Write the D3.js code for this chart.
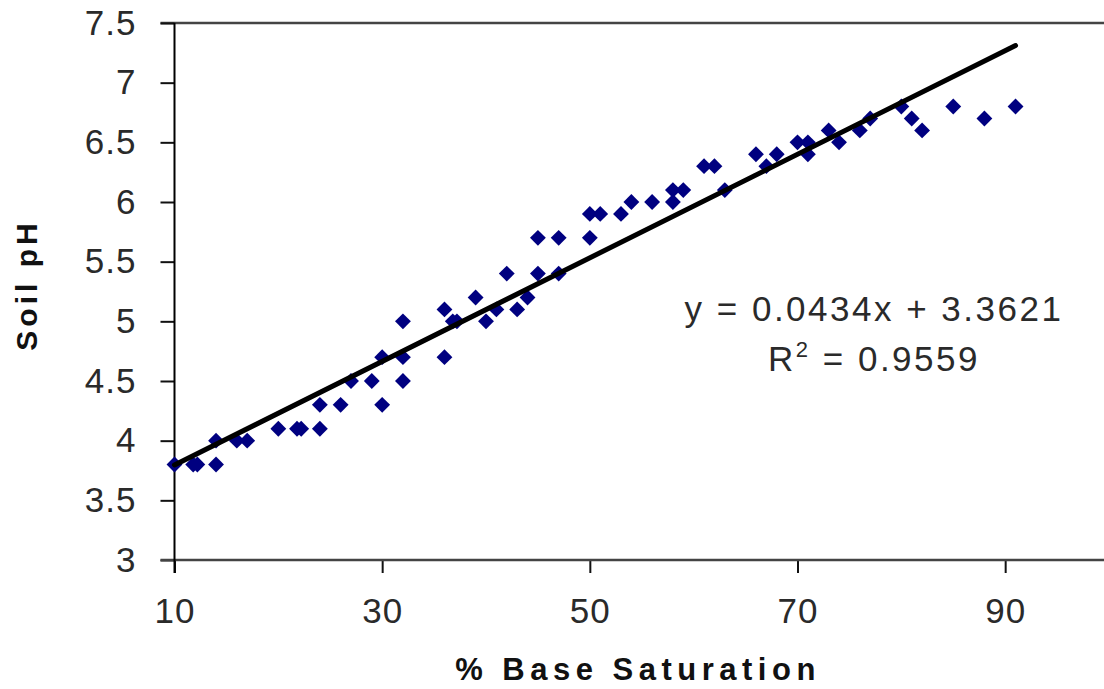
<!DOCTYPE html>
<html>
<head>
<meta charset="utf-8">
<script src="https://cdn.jsdelivr.net/npm/d3@7"></script>
<style>
  html, body { margin: 0; padding: 0; background: #fff; }
  svg { display: block; }
  .tick text { font-family: "Liberation Sans", Arial, sans-serif; font-size: 35px; fill: #2a2a2a; letter-spacing: 1px; }
</style>
</head>
<body>
<div id="chart"></div>
<script>
// % base saturation vs soil pH
const baseSat = [10, 11.8, 12.2, 14, 14, 16, 17, 20, 21.8, 22.2, 24, 24, 26, 27, 29, 30, 30, 32, 32, 32,
  36, 36, 36.8, 37.2, 39, 40, 41, 42, 43, 44, 45, 45, 47, 47, 50, 50, 51, 53, 54, 56,
  58, 58, 59, 61, 62, 63, 66, 67, 68, 70, 71, 71, 73, 74, 76, 77, 80, 81, 82, 85, 88, 91];
const soilPH = [3.8, 3.8, 3.8, 3.8, 4.0, 4.0, 4.0, 4.1, 4.1, 4.1, 4.1, 4.3, 4.3, 4.5, 4.5, 4.3, 4.7, 4.5, 4.7, 5.0,
  5.1, 4.7, 5.0, 5.0, 5.2, 5.0, 5.1, 5.4, 5.1, 5.2, 5.4, 5.7, 5.7, 5.4, 5.7, 5.9, 5.9, 5.9, 6.0, 6.0,
  6.0, 6.1, 6.1, 6.3, 6.3, 6.1, 6.4, 6.3, 6.4, 6.5, 6.5, 6.4, 6.6, 6.5, 6.6, 6.7, 6.8, 6.7, 6.6, 6.8, 6.7, 6.8];
const xTicks = [10, 30, 50, 70, 90];
const yTicks = [3, 3.5, 4, 4.5, 5, 5.5, 6, 6.5, 7, 7.5];
const slope = 0.0434;
const intercept = 3.3621;
const fitRange = [10, 91];

const width = 1104;
const height = 689;
const plotLeft = 174.5, plotTop = 23, plotBottom = 560, plotRight = 1109;

const svg = d3.select('#chart').append('svg')
  .attr('width', width)
  .attr('height', height);

const x = d3.scaleLinear().domain([10, 100]).range([plotLeft, plotRight]);
const y = d3.scaleLinear().domain([3, 7.5]).range([plotBottom, plotTop]);

// top border of plot area
svg.append('line')
  .attr('x1', plotLeft - 14).attr('x2', width)
  .attr('y1', y(7.5)).attr('y2', y(7.5))
  .attr('stroke', '#444').attr('stroke-width', 2.5);

const yAxis = svg.append('g')
  .attr('transform', `translate(${plotLeft},0)`)
  .call(d3.axisLeft(y).tickValues(yTicks).tickSize(14).tickPadding(24).tickFormat(d => d));
yAxis.select('.domain').remove();
yAxis.selectAll('.tick line').attr('stroke', '#111').attr('stroke-width', 2);

const xAxis = svg.append('g')
  .attr('transform', `translate(0,${plotBottom})`)
  .call(d3.axisBottom(x).tickValues(xTicks).tickSize(13).tickFormat(d => d));
xAxis.select('.domain').remove();
xAxis.selectAll('.tick line').attr('stroke', '#111').attr('stroke-width', 2);
xAxis.selectAll('.tick text').attr('dy', null).attr('y', 63);

// axis lines
svg.append('line')
  .attr('x1', plotLeft - 14).attr('x2', width)
  .attr('y1', plotBottom).attr('y2', plotBottom)
  .attr('stroke', '#444').attr('stroke-width', 2.5);
svg.append('line')
  .attr('x1', plotLeft).attr('x2', plotLeft)
  .attr('y1', plotTop).attr('y2', plotBottom + 13)
  .attr('stroke', '#000').attr('stroke-width', 2);

// data points
const diamond = d3.symbol().type(d3.symbolDiamond2).size(160);
svg.selectAll('.pt').data(baseSat).enter().append('path')
  .attr('class', 'pt')
  .attr('d', diamond)
  .attr('transform', (d, i) => `translate(${x(d)},${y(soilPH[i])})`)
  .attr('fill', '#000080');

// trend line
const fit = d3.line().x(d => x(d)).y(d => y(slope * d + intercept));
svg.append('path')
  .attr('d', fit(fitRange))
  .attr('fill', 'none')
  .attr('stroke', '#000')
  .attr('stroke-width', 5)
  .attr('stroke-linecap', 'round');

// equation
const eq = svg.append('g')
  .attr('font-family', '"Liberation Sans", Arial, sans-serif')
  .attr('font-size', 35)
  .attr('fill', '#2a2a2a')
  .attr('text-anchor', 'middle');
eq.append('text')
  .attr('x', 874).attr('y', 321)
  .attr('letter-spacing', 2.5)
  .text('y = 0.0434x + 3.3621');
const r2 = eq.append('text')
  .attr('x', 874).attr('y', 371)
  .attr('letter-spacing', 2.5);
r2.append('tspan').text('R');
r2.append('tspan').attr('font-size', 22).attr('dy', -14).text('2');
r2.append('tspan').attr('dy', 14).text(' = 0.9559');

// axis titles
svg.append('text')
  .attr('x', 638).attr('y', 680)
  .attr('text-anchor', 'middle')
  .attr('font-family', '"Liberation Sans", Arial, sans-serif')
  .attr('font-weight', 'bold')
  .attr('font-size', 31)
  .attr('letter-spacing', 5.5)
  .attr('fill', '#111')
  .text('% Base Saturation');

svg.append('text')
  .attr('transform', 'translate(37,285) rotate(-90)')
  .attr('text-anchor', 'middle')
  .attr('font-family', '"Liberation Sans", Arial, sans-serif')
  .attr('font-weight', 'bold')
  .attr('font-size', 30)
  .attr('letter-spacing', 4)
  .attr('fill', '#111')
  .text('Soil pH');
</script>
</body>
</html>
